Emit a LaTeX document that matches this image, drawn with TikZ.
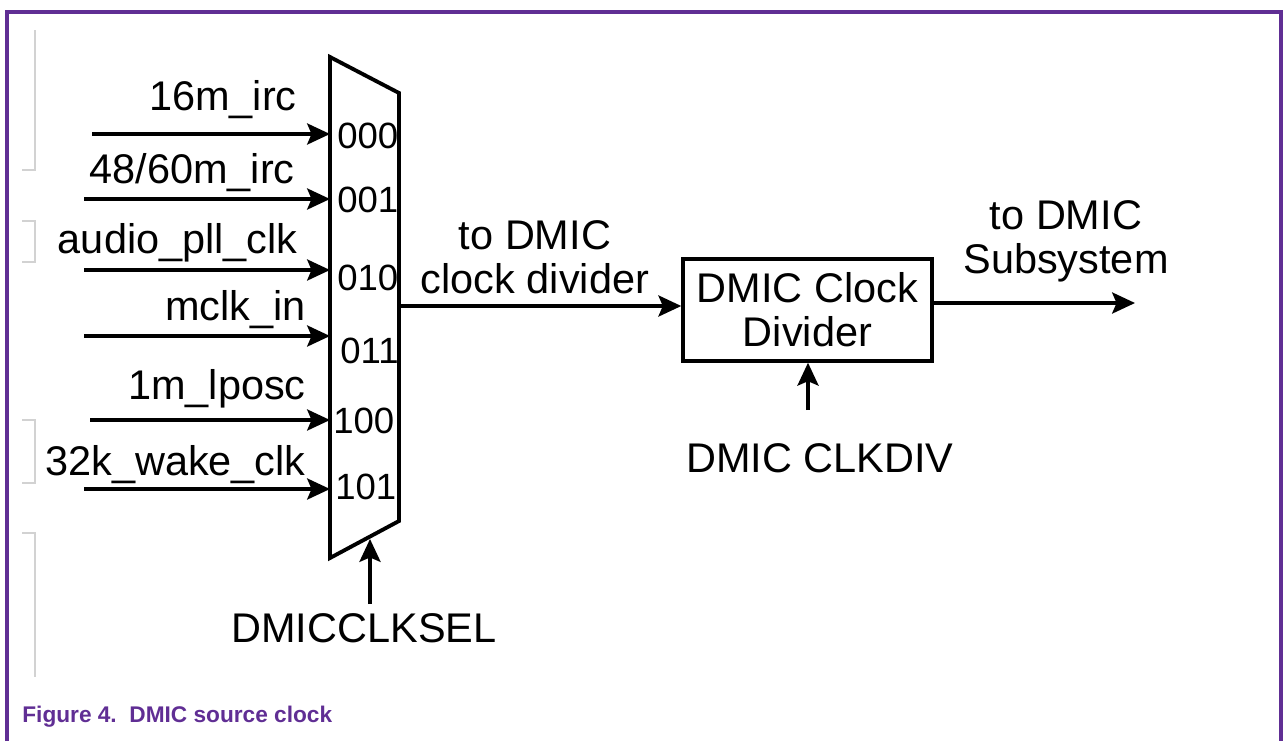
\documentclass[tikz,border=0pt]{standalone}
\usepackage{fontspec}
\setmainfont{Liberation Sans}
\usepackage{tikz}
\usetikzlibrary{positioning, arrows.meta}

\definecolor{framepurple}{RGB}{96,46,148}

\tikzset{
  wire/.style={line width=1.9pt, ->},
  lbl/.style={font=\fontsize{23.6}{25}\selectfont, inner sep=0pt},
  portlbl/.style={font=\fontsize{20.8}{22}\selectfont, inner sep=0pt, anchor=base west},
  divbox/.style={draw, line width=2pt, minimum width=4.98cm, minimum height=2.04cm,
    align=center, font=\fontsize{23.6}{25}\selectfont, inner sep=0pt},
  ghost/.style={gray!35, line width=0.6pt},
}

\begin{document}
\begin{tikzpicture}[x=0.02cm, y=-0.02cm, >={Stealth[length=13pt, width=12pt, inset=2.5pt]}]
  \useasboundingbox (0,0) rectangle (1284,741);

  % Frame of the figure
  \draw[framepurple, line width=1.8pt] (7,741) -- (7,12) -- (1281,12) -- (1281,741);

  % Faint leftovers on the left margin
  \draw[ghost] (22,170) -- (35,170) -- (35,30);
  \draw[ghost] (22,221) -- (35,221) -- (35,262) -- (22,262);
  \draw[ghost] (22,420) -- (35,420) -- (35,483) -- (22,483);
  \draw[ghost] (22,533) -- (35,533) -- (35,677);

  % Draw the mux
  \coordinate (mTL) at (330,57);
  \coordinate (mTR) at (399,93);
  \coordinate (mBR) at (399,521);
  \coordinate (mBL) at (330,558);
  \draw[line width=2.2pt, line join=miter] (mTL) -- (mTR) -- (mBR) -- (mBL) -- cycle;
  \coordinate (muxL) at (330,0);

  % Mux select values
  \node[portlbl] (s0) at (337,148) {000};
  \node[portlbl] (s1) at (337,212) {001};
  \node[portlbl] (s2) at (337,290) {010};
  \node[portlbl] (s3) at (340,363) {011};
  \node[portlbl] (s4) at (333,433) {100};
  \node[portlbl] (s5) at (335,499) {101};

  % Clock inputs
  \coordinate (i0) at (92,134);
  \coordinate (i1) at (84,199);
  \coordinate (i2) at (84,270);
  \coordinate (i3) at (84,336);
  \coordinate (i4) at (90,420);
  \coordinate (i5) at (84,489);
  \draw[wire] (i0) -- (i0 -| muxL);
  \draw[wire] (i1) -- (i1 -| muxL);
  \draw[wire] (i2) -- (i2 -| muxL);
  \draw[wire] (i3) -- (i3 -| muxL);
  \draw[wire] (i4) -- (i4 -| muxL);
  \draw[wire] (i5) -- (i5 -| muxL);
  \node[lbl, anchor=base east] (l0) at (297,110) {16m\_irc};
  \node[lbl, anchor=base east] (l1) at (295,183) {48/60m\_irc};
  \node[lbl, anchor=base east] (l2) at (298,253) {audio\_pll\_clk};
  \node[lbl, anchor=base east] (l3) at (306,320) {mclk\_in};
  \node[lbl, anchor=base east] (l4) at (306,399) {1m\_lposc};
  \node[lbl, anchor=base east] (l5) at (306,475) {32k\_wake\_clk};

  % Select line of the mux
  \coordinate (selin) at (370,604);
  \coordinate (selmux) at (370,539);
  \draw[wire] (selin) -- (selmux);
  \node[lbl, anchor=base] (sel) at (364,642) {DMICCLKSEL};

  % Divider block
  \node[divbox] (div) at (807.5,310) {DMIC Clock\\Divider};

  % Mux output to the divider
  \coordinate (muxout) at (399,306);
  \draw[wire] (muxout) -- (muxout -| div.west);
  \node[lbl, align=center] (tolbl) at (535,257) {to DMIC\\clock divider};

  % Divider control
  \coordinate (divctl) at (808,410);
  \draw[wire] (divctl) -- (divctl |- div.south);
  \node[lbl, anchor=base] (clkdiv) at (820,472) {DMIC CLKDIV};

  % Divider output
  \coordinate (subsys) at (1135,303);
  \draw[wire] (subsys -| div.east) -- (subsys);
  \node[lbl, align=center] (sublbl) at (1066,241) {to DMIC\\Subsystem};

  % Caption
  \node[anchor=base west, inner sep=0pt, text=framepurple,
    font=\fontsize{12.9}{15}\selectfont\bfseries] (caption) at (22,722)
    {Figure 4.\ \ DMIC source clock};
\end{tikzpicture}
\end{document}
